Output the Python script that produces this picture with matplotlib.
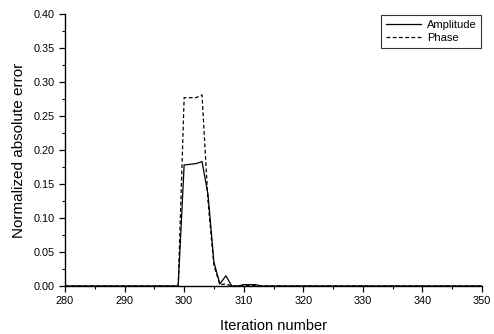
import matplotlib
matplotlib.use("Agg")
import matplotlib.pyplot as plt
from matplotlib.ticker import MultipleLocator, FormatStrFormatter

plt.rcParams['font.family'] = ['Liberation Sans', 'DejaVu Sans']

iteration = [280, 285, 290, 295, 298, 299, 300, 301, 302, 303, 304, 305, 306, 307, 308, 309, 310, 311, 312, 313, 315, 320, 330, 340, 350]
amplitude = [0.0, 0.0, 0.0, 0.0, 0.0, 0.0, 0.178, 0.179, 0.180, 0.183, 0.135, 0.035, 0.003, 0.015, 0.0, 0.0, 0.002, 0.002, 0.002, 0.0, 0.0, 0.0, 0.0, 0.0, 0.0]
phase = [0.0, 0.0, 0.0, 0.0, 0.0, 0.0, 0.277, 0.277, 0.277, 0.281, 0.125, 0.030, 0.002, 0.003, 0.0, 0.0, 0.001, 0.001, 0.001, 0.0, 0.0, 0.0, 0.0, 0.0, 0.0]

fig = plt.figure(figsize=(4.94, 3.34), dpi=100)
ax = fig.add_axes([0.1316, 0.1437, 0.8441, 0.8143])
ax.plot(iteration, amplitude, color='black', lw=0.9, label='Amplitude')
ax.plot(iteration, phase, color='black', lw=0.9, ls=(0, (3, 2)), label='Phase')

ax.set_xlim(280, 350)
ax.set_ylim(0, 0.40)
ax.xaxis.set_major_locator(MultipleLocator(10))
ax.xaxis.set_minor_locator(MultipleLocator(5))
ax.yaxis.set_major_locator(MultipleLocator(0.05))
ax.yaxis.set_minor_locator(MultipleLocator(0.025))
ax.yaxis.set_major_formatter(FormatStrFormatter('%.2f'))
for s in ['top', 'right']:
    ax.spines[s].set_visible(False)
ax.spines['left'].set_linewidth(1.0)
ax.spines['bottom'].set_linewidth(1.0)
ax.tick_params(axis='both', which='major', labelsize=7.8, length=4, width=0.9, direction='out')
ax.tick_params(axis='both', which='minor', length=2.5, width=0.8, direction='out')
ax.set_xlabel('Iteration number', fontsize=10.5, labelpad=9)
ax.set_ylabel('Normalized absolute error', fontsize=11, labelpad=5)

leg = ax.legend(loc='upper right', fontsize=8, frameon=True, fancybox=False,
                edgecolor='black', borderpad=0.45, handlelength=3.2, handletextpad=0.5,
                labelspacing=0.3, borderaxespad=0.05)
leg.get_frame().set_linewidth(0.8)

fig.savefig('out.png', dpi=100)
